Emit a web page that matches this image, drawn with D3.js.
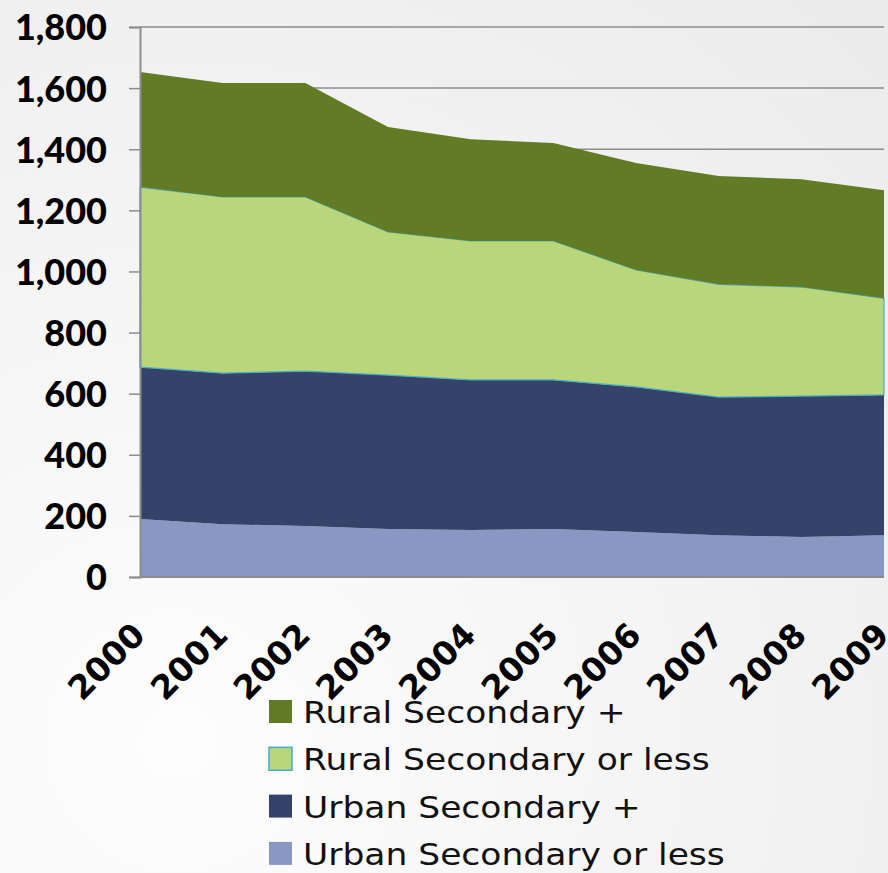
<!DOCTYPE html>
<html>
<head>
<meta charset="utf-8">
<script src="https://cdn.jsdelivr.net/npm/d3@7"></script>
<style>
  body { margin: 0; }
  svg { display: block; }
</style>
</head>
<body>
<div id="chart"></div>
<script>
// values
const years = ["2000","2001","2002","2003","2004","2005","2006","2007","2008","2009"]
const urbanLess = [190,173,167,157,154,157,147,137,131,137]
const urbanPlus = [497,494,507,504,491,488,475,452,461,459]
const ruralLess = [589,577,570,468,455,455,383,369,357,316]
const ruralPlus = [377,373,373,344,333,320,350,354,353,354]
const yTicks = [0,200,400,600,800,1000,1200,1400,1600,1800]

const seriesNames = ["Urban Secondary or less","Urban Secondary +","Rural Secondary or less","Rural Secondary +"]
const seriesColors = ["#8898c2","#354269","#b9d67b","#627c25"]

const width = 888, height = 873
const margin = {left: 140, right: 4, top: 27, bottom: 296}

let rows = years.map((y, i) => ({
    year: y,
    "Urban Secondary or less": urbanLess[i],
    "Urban Secondary +": urbanPlus[i],
    "Rural Secondary or less": ruralLess[i],
    "Rural Secondary +": ruralPlus[i]
}))

let svg = d3.select("#chart").append("svg")
    .attr("width", width)
    .attr("height", height)

let defs = svg.append("defs")
let grad = defs.append("radialGradient").attr("id", "bg")
    .attr("cx", "20%").attr("cy", "85%").attr("r", "110%")
grad.append("stop").attr("offset", "0%").attr("stop-color", "#fdfdfd")
grad.append("stop").attr("offset", "100%").attr("stop-color", "#ececec")
svg.append("rect").attr("width", width).attr("height", height).attr("fill", "url(#bg)")

let x = d3.scalePoint().domain(years).range([margin.left, width - margin.right])
let y = d3.scaleLinear().domain([0, 1800]).range([height - margin.bottom, margin.top])

// gridlines
svg.append("g").selectAll("line").data(yTicks.slice(1)).enter().append("line")
    .attr("x1", margin.left).attr("x2", width - margin.right)
    .attr("y1", d => y(d)).attr("y2", d => y(d))
    .attr("stroke", "#8c8c8c").attr("stroke-width", 1.5)

let stack = d3.stack().keys(seriesNames)
let layers = stack(rows)

let area = d3.area()
    .x(d => x(d.data.year))
    .y0(d => y(d[0]))
    .y1(d => y(d[1]))

svg.append("g").selectAll("path").data(layers).enter().append("path")
    .attr("d", area)
    .attr("fill", (d, i) => seriesColors[i])
    .attr("stroke", (d, i) => i == 2 ? "#4bacc6" : "none")
    .attr("stroke-width", 1.2)

// y axis
let yAxis = d3.axisLeft(y).tickValues(yTicks).tickSize(11).tickPadding(22)
    .tickFormat(d3.format(","))
let gy = svg.append("g").attr("transform", `translate(${margin.left},0)`).call(yAxis)
gy.select(".domain").attr("stroke", "#8c8c8c").attr("stroke-width", 2)
gy.selectAll(".tick line").attr("stroke", "#8c8c8c").attr("stroke-width", 1.5)
gy.selectAll(".tick text")
    .attr("font-family", "Lato, sans-serif")
    .attr("font-weight", 900)
    .attr("font-size", 36)
    .attr("fill", "#000")
    .attr("dy", "0.36em")

// bottom line
svg.append("line")
    .attr("x1", margin.left).attr("x2", width - margin.right)
    .attr("y1", y(0)).attr("y2", y(0))
    .attr("stroke", "#8c8c8c").attr("stroke-width", 2)

// x labels, rotated
svg.append("g").selectAll("text").data(years).enter().append("text")
    .attr("transform", d => `translate(${x(d) + 7},${y(0) + 60}) rotate(-45)`)
    .attr("text-anchor", "end")
    .attr("font-family", "'DejaVu Sans', sans-serif")
    .attr("font-weight", "bold")
    .attr("font-size", 33)
    .text(d => d)

// legend, top entry is the top layer
let legendItems = seriesNames.slice().reverse()
let legendColors = seriesColors.slice().reverse()
let legend = svg.append("g").selectAll("g").data(legendItems).enter().append("g")
    .attr("transform", (d, i) => `translate(269,${700 + i * 47.3})`)
legend.append("rect")
    .attr("width", 23).attr("height", 23)
    .attr("fill", (d, i) => legendColors[i])
    .attr("stroke", d => d == "Rural Secondary or less" ? "#4bacc6" : "none")
    .attr("stroke-width", 1.5)
legend.append("text")
    .attr("transform", "translate(34,23) scale(1.15,1)")
    .attr("font-family", "'DejaVu Sans', sans-serif")
    .attr("font-size", 30)
    .attr("fill", "#111")
    .text(d => d)
</script>
</body>
</html>
